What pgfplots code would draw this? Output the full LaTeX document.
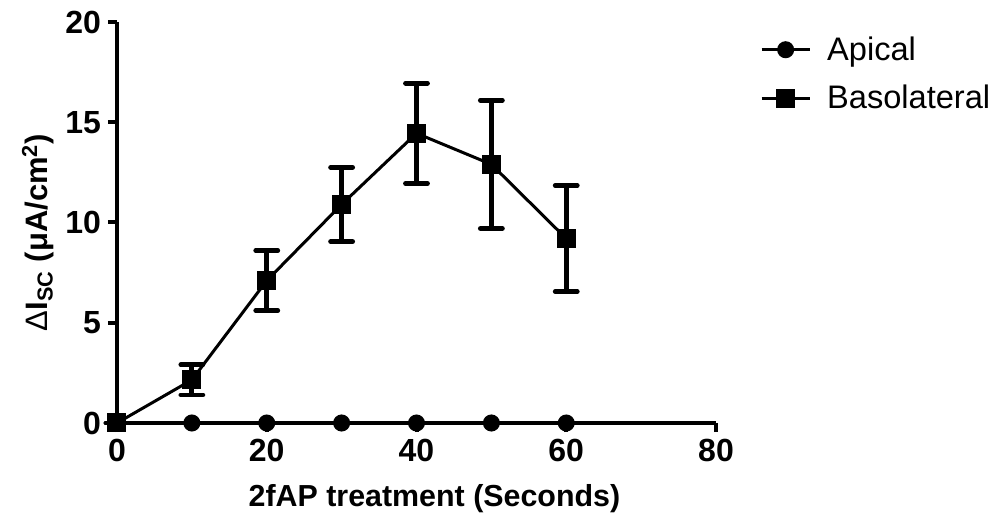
\documentclass[border=0pt]{standalone}
\usepackage{fontspec}
\setmainfont{Liberation Sans}
\usepackage{pgfplots}
\pgfplotsset{compat=1.18}

\pgfplotstableread{
x  y     e
0  0     0
10 0     0
20 0     0
30 0     0
40 0     0
50 0     0
60 0     0
}\apical

\pgfplotstableread{
x  y     e
0  0     0
10 2.15  0.75
20 7.1   1.5
30 10.9  1.85
40 14.45 2.5
50 12.9  3.2
60 9.2   2.65
}\baso

\begin{document}
\begin{tikzpicture}
\useasboundingbox (-58.5pt,-50pt) rectangle (441.5pt,211.5pt);
\begin{axis}[
    at={(0,0)}, anchor=south west,
    scale only axis,
    width=299.5pt, height=200.5pt,
    xmin=0, xmax=80, ymin=0, ymax=20,
    axis x line*=bottom, axis y line*=left,
    axis line style={line width=2pt},
    xtick={0,20,...,80}, ytick={0,5,...,20},
    tick align=outside,
    major tick length=4.5pt,
    tick style={line width=2pt, black},
    /pgf/number format/assume math mode=true,
    ticklabel style={font=\bfseries\fontsize{16}{18}\selectfont},
    xlabel={\textbf{2fAP treatment (Seconds)}},
    ylabel={Δ\textbf{I\textsubscript{SC} (μA/cm\textsuperscript{2})}},
    xlabel style={font=\fontsize{15.2}{17}\selectfont, at={(axis description cs:0.53,0)}, anchor=center, yshift=-38pt},
    ylabel style={font=\fontsize{15.5}{17}\selectfont, at={(axis description cs:-0.132,0.475)}, anchor=center},
    clip=false,
    legend style={draw=none, fill=none, at={(axis description cs:1.063,0.985)}, anchor=north west,
        font=\fontsize{16.3}{19}\selectfont, row sep=7pt,
        legend cell align=left,
        /tikz/every odd column/.append style={column sep=6pt}},
    legend image code/.code={
        \draw[mark repeat=2, mark phase=2] plot coordinates {(0pt,0pt) (12pt,0pt) (24pt,0pt)};
    },
]
\addplot[black, line width=1.5pt, mark=*, mark size=3.5pt]
    table[x=x, y=y] {\apical};
\addlegendentry{Apical}

\addplot[black, line width=1.5pt, mark=square*, mark size=4pt,
    error bars/.cd, y dir=both, y explicit,
    error bar style={line width=2.4pt},
    error mark options={rotate=90, mark size=5.5pt, line width=2.4pt, line cap=round}]
    table[x=x, y=y, y error=e] {\baso};
\addlegendentry{Basolateral}
\end{axis}
\end{tikzpicture}
\end{document}
